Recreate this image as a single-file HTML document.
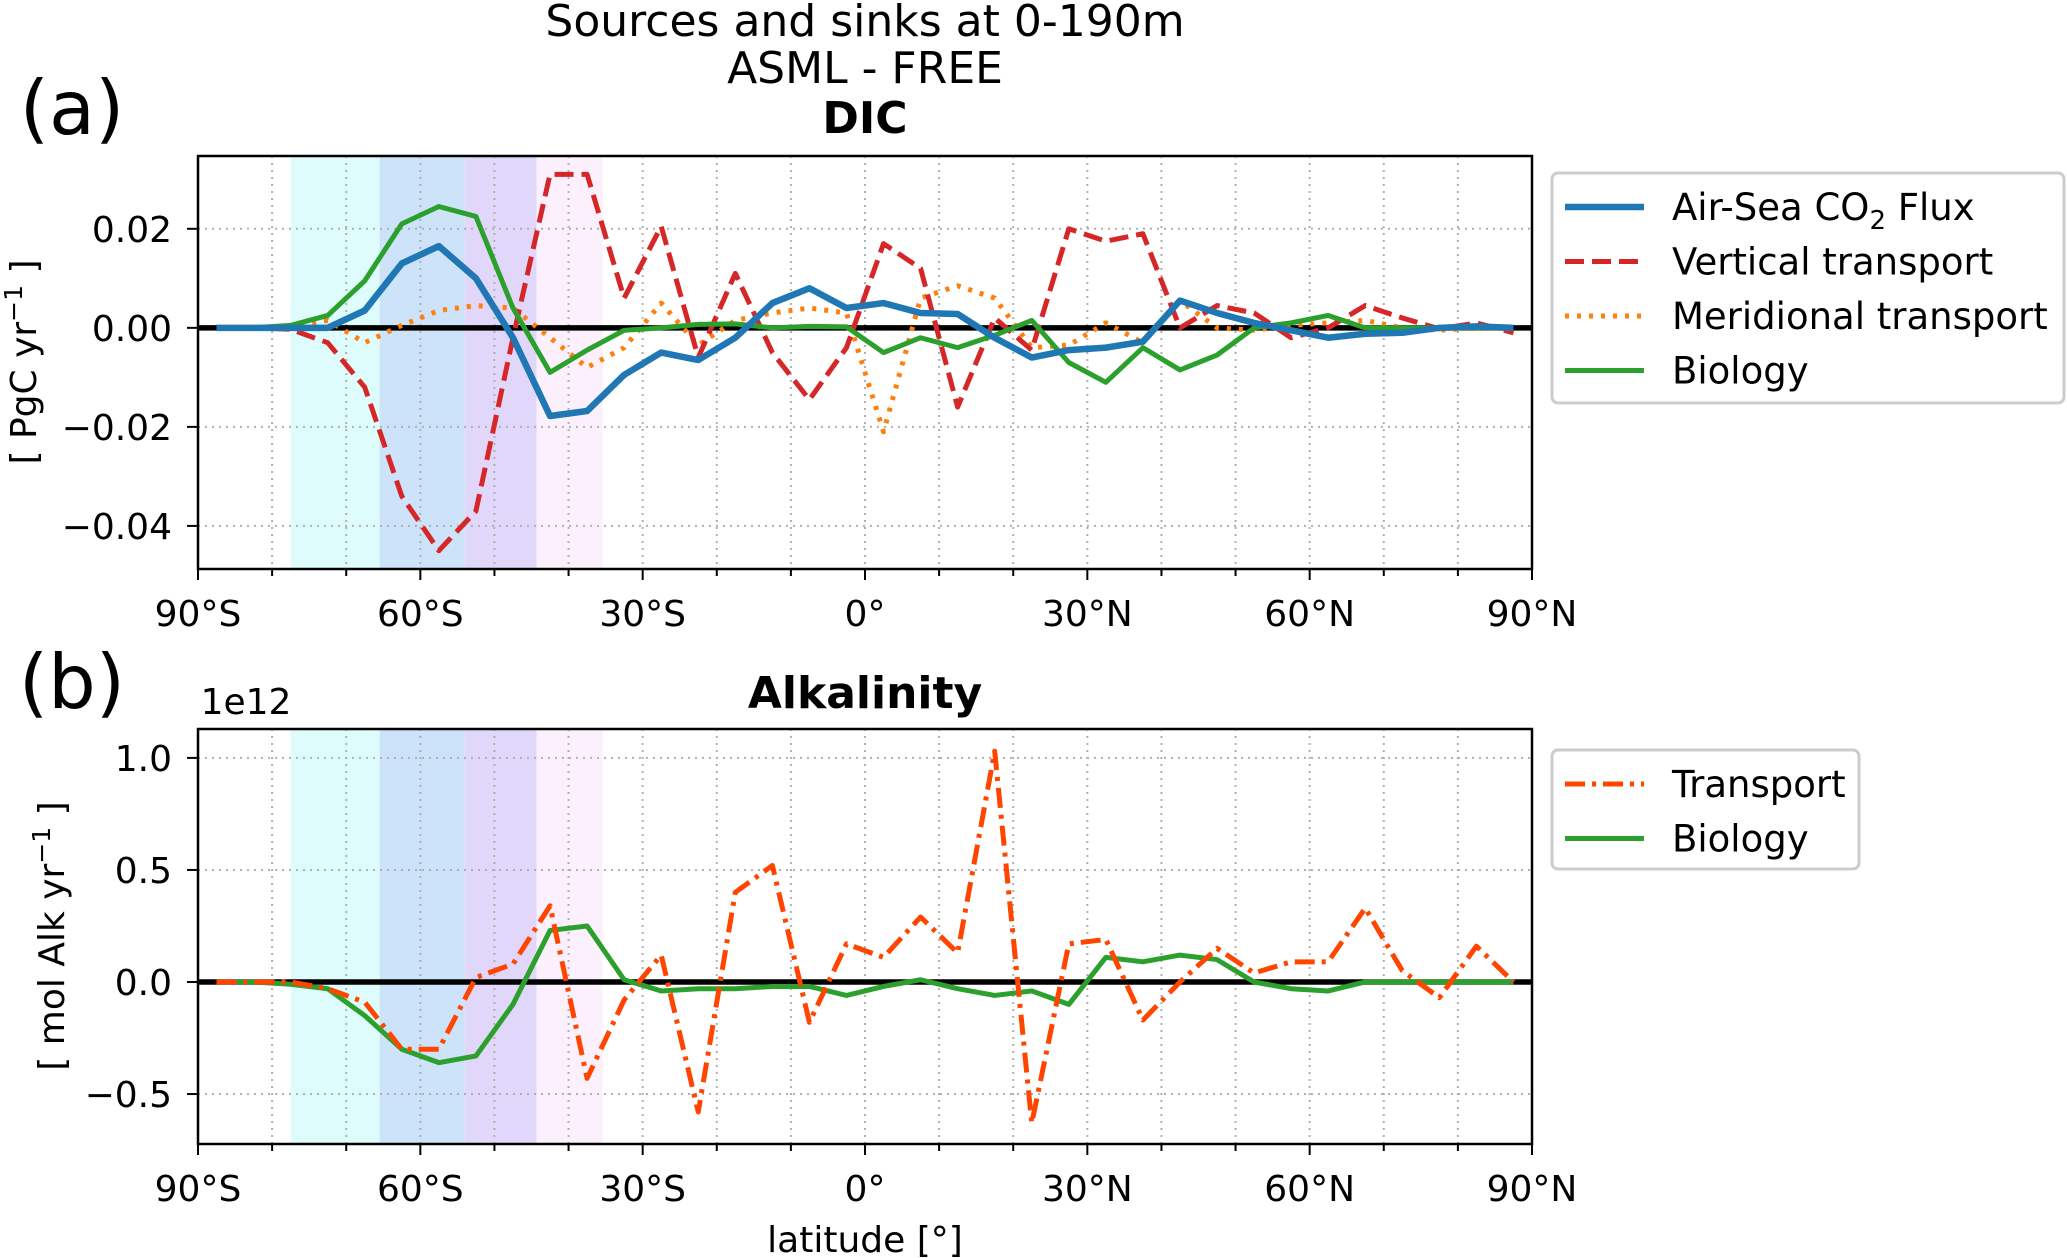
<!DOCTYPE html>
<html><head><meta charset="utf-8"><style>
body{margin:0;background:#fff}
svg{display:block;font-family:"DejaVu Sans","Liberation Sans",sans-serif}
</style></head><body>
<svg id="fig" width="2067" height="1258" viewBox="0 0 2067 1258" xmlns="http://www.w3.org/2000/svg"></svg>
<script>
const lats = [-87.5,-82.5,-77.5,-72.5,-67.5,-62.5,-57.5,-52.5,-47.5,-42.5,-37.5,-32.5,-27.5,-22.5,-17.5,-12.5,-7.5,-2.5,2.5,7.5,12.5,17.5,22.5,27.5,32.5,37.5,42.5,47.5,52.5,57.5,62.5,67.5,72.5,77.5,82.5,87.5];
const airSea = [0,0,0,0,0.0035,0.013,0.0165,0.010,-0.002,-0.0178,-0.0168,-0.0095,-0.005,-0.0065,-0.002,0.005,0.008,0.004,0.005,0.003,0.0028,-0.002,-0.006,-0.0045,-0.004,-0.0028,0.0055,0.003,0.001,-0.0005,-0.002,-0.0012,-0.001,0,0.0003,0];
const vertical = [0,0,-0.0003,-0.003,-0.012,-0.034,-0.045,-0.037,-0.002,0.031,0.031,0.006,0.0205,-0.006,0.011,-0.005,-0.0145,-0.004,0.017,0.012,-0.016,0.002,-0.0045,0.020,0.0175,0.019,0,0.0045,0.003,-0.002,0,0.0045,0.002,-0.0002,0.001,-0.001];
const meridional = [0,0,0.0002,0.0015,-0.003,0.0005,0.0035,0.0045,0.004,-0.002,-0.008,-0.004,0.005,-0.0035,0.0015,0.003,0.004,0.003,-0.021,0.006,0.0085,0.006,-0.004,-0.0035,0.001,-0.003,0.0055,0,-0.0005,0.0005,0.001,0.0015,0,-0.0005,0,0];
const bioDIC = [0,0,0.0005,0.0025,0.0095,0.021,0.0245,0.0225,0.004,-0.009,-0.0045,-0.0005,0,0.0007,0.0008,0,0.0003,0.0002,-0.005,-0.002,-0.004,-0.0015,0.0015,-0.007,-0.011,-0.004,-0.0085,-0.0055,0,0.001,0.0025,0,0,0,0,0];
const alkTransport = [0,0,0,-0.03,-0.09,-0.3,-0.3,0.02,0.08,0.34,-0.43,-0.08,0.12,-0.58,0.4,0.52,-0.18,0.17,0.11,0.29,0.13,1.03,-0.63,0.17,0.19,-0.17,0,0.15,0.04,0.09,0.09,0.33,0.05,-0.07,0.16,0];
const alkBio = [0,0,-0.01,-0.03,-0.15,-0.3,-0.36,-0.33,-0.1,0.23,0.25,0.01,-0.04,-0.03,-0.03,-0.02,-0.02,-0.06,-0.02,0.01,-0.03,-0.06,-0.04,-0.1,0.11,0.09,0.12,0.1,0,-0.03,-0.04,0,0,0,0,0];
const xTicks = [-90,-60,-30,0,30,60,90];
const xTickLabels = ["90°S","60°S","30°S","0°","30°N","60°N","90°N"];
const yTicksA = [0.02,0,-0.02,-0.04];
const yTickLabelsA = ["0.02","0.00","\u22120.02","\u22120.04"];
const yTicksB = [1.0,0.5,0,-0.5];
const yTickLabelsB = ["1.0","0.5","0.0","\u22120.5"];
const bands = [[-77.5,-65.5,"#dffcfc"],[-65.5,-54,"#cce3fa"],[-54,-44.3,"#e1d7fa"],[-44.3,-35.4,"#fcf0fc"]];

const NS="http://www.w3.org/2000/svg";
const svg=document.getElementById('fig');
function el(tag,attrs,parent){const e=document.createElementNS(NS,tag);for(const k in attrs)e.setAttribute(k,attrs[k]);(parent||svg).appendChild(e);return e;}
const X0=198,X1=1532;
const xs=l=>X0+(l+90)/180*(X1-X0);

function panel(name,top,bot,ymin,ymax,yt,ytl,series){
  const ys=v=>bot-(v-ymin)/(ymax-ymin)*(bot-top);
  const g=el('g',{});
  
  
  bands.forEach(b=>{const r=el('rect',{x:xs(b[0]),y:top,width:xs(b[1])-xs(b[0]),height:bot-top,fill:b[2]},g);
    });
  for(let l=-80;l<=80;l+=10){const ln=el('line',{x1:xs(l),x2:xs(l),y1:top,y2:bot,stroke:'#b0b0b0','stroke-width':2,'stroke-dasharray':'2,5'},g);
    }
  yt.forEach((v,i)=>{const y=ys(v);
    const ln=el('line',{x1:X0,x2:X1,y1:y,y2:y,stroke:'#b0b0b0','stroke-width':2,'stroke-dasharray':'2,5'},g);
    
    el('line',{x1:X0-11,x2:X0,y1:y,y2:y,stroke:'#000','stroke-width':2},g);
    const t=el('text',{x:X0-26,y:y+13,'text-anchor':'end','font-size':36},g);t.textContent=ytl[i];
    });
  for(let l=-90;l<=90;l+=10){const big=l%30===0;el('line',{x1:xs(l),x2:xs(l),y1:bot,y2:bot+(big?11:7),stroke:'#000','stroke-width':2},g);}
  xTicks.forEach((l,i)=>{const t=el('text',{x:xs(l),y:bot+57,'text-anchor':'middle','font-size':36},g);t.textContent=xTickLabels[i];
    });
  const z=el('line',{x1:X0,x2:X1,y1:ys(0),y2:ys(0),stroke:'#000','stroke-width':5.5},g);
  
  series.forEach(s=>{const p=el('polyline',{points:lats.map((l,i)=>xs(l)+','+ys(s.d[i])).join(' '),fill:'none',stroke:s.c,'stroke-width':s.w,'stroke-dasharray':s.da||'none','stroke-linejoin':'round'},g);
    });
  const fr=el('rect',{x:X0,y:top,width:X1-X0,height:bot-top,fill:'none',stroke:'#000','stroke-width':2.5},g);
  
}
panel('dic-panel',156,569,-0.0487,0.0347,yTicksA,yTickLabelsA,[
  {d:meridional,c:'#ff7f0e',w:5,da:'4,8',n:'meridional-transport-line'},
  {d:vertical,c:'#d62728',w:5,da:'19,8',n:'vertical-transport-line'},
  {d:bioDIC,c:'#2ca02c',w:5,n:'biology-dic-line'},
  {d:airSea,c:'#1f77b4',w:6.5,n:'air-sea-flux-line'}]);
panel('alkalinity-panel',729,1144,-0.723,1.129,yTicksB,yTickLabelsB,[
  {d:alkBio,c:'#2ca02c',w:5,n:'biology-alk-line'},
  {d:alkTransport,c:'#ff4500',w:5,da:'20,7,4,7',n:'alk-transport-line'}]);

function txt(x,y,s,size,name,extra){const t=el('text',Object.assign({x:x,y:y,'font-size':size,'text-anchor':'middle'},extra||{}));t.textContent=s;
  return t;}
txt(865,36,'Sources and sinks at 0-190m',44,'figure-title-line1');
txt(865,83,'ASML - FREE',44,'figure-title-line2');
txt(865,133,'DIC',44,'dic-title',{'font-weight':'bold'});
txt(865,708,'Alkalinity',44,'alkalinity-title',{'font-weight':'bold'});
txt(72,134,'(a)',75,'panel-a-label');
txt(72,708,'(b)',75,'panel-b-label');
txt(246,714,'1e12',36,'offset-label');
txt(865,1252,'latitude [°]',36,'x-axis-title');
const ya=el('text',{x:0,y:0,'font-size':36,'text-anchor':'middle',transform:'translate(36,362) rotate(-90)'});

ya.innerHTML='[ PgC yr<tspan dy="-14" font-size="25">\u22121</tspan><tspan dy="14"> ]</tspan>';
const yb=el('text',{x:0,y:0,'font-size':36,'text-anchor':'middle',transform:'translate(64,936) rotate(-90)'});

yb.innerHTML='[ mol Alk yr<tspan dy="-14" font-size="25">\u22121</tspan><tspan dy="14"> ]</tspan>';

function legend(name,x,y,w,h,items){
  const g=el('g',{});
  
  
  el('rect',{x:x,y:y,width:w,height:h,rx:6,fill:'#fff',stroke:'#cccccc','stroke-width':3},g);
  items.forEach((it,i)=>{const cy=y+34+i*54.5;
    el('line',{x1:x+13,x2:x+92,y1:cy,y2:cy,stroke:it.c,'stroke-width':it.w,'stroke-dasharray':it.da||'none'},g);
    const t=el('text',{x:x+120,y:cy+13,'font-size':37},g);t.innerHTML=it.t;
    });
}
legend('dic-legend',1552,173,512,230,[
  {t:'Air-Sea CO<tspan dy="9" font-size="26">2</tspan><tspan dy="-9"> Flux</tspan>',c:'#1f77b4',w:6.5},
  {t:'Vertical transport',c:'#d62728',w:5,da:'19,8'},
  {t:'Meridional transport',c:'#ff7f0e',w:5,da:'4,8'},
  {t:'Biology',c:'#2ca02c',w:5}]);
legend('alk-legend',1552,750,307,119,[
  {t:'Transport',c:'#ff4500',w:5,da:'20,7,4,7'},
  {t:'Biology',c:'#2ca02c',w:5}]);
</script>
</body></html>
